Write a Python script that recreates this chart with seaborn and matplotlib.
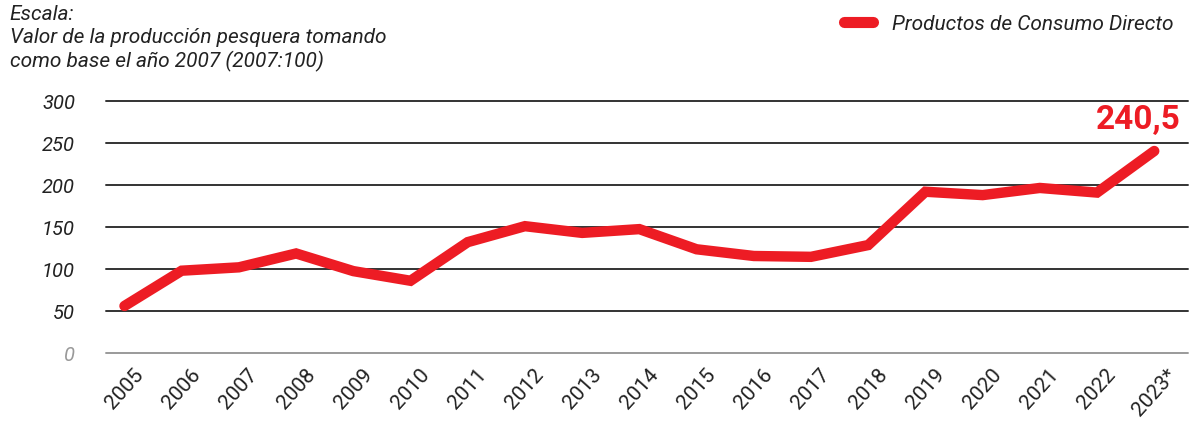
import matplotlib
matplotlib.use('Agg')
import matplotlib.pyplot as plt
import pandas as pd
import seaborn as sns

years = ['2005', '2006', '2007', '2008', '2009', '2010', '2011', '2012', '2013', '2014',
         '2015', '2016', '2017', '2018', '2019', '2020', '2021', '2022', '2023*']
values = [56, 98, 102, 118.5, 97.5, 86, 132, 151, 143, 147.5,
          123.5, 115.5, 114.5, 128.5, 192, 188, 196.5, 191, 240.5]
series_name = 'Productos de Consumo Directo'
last_label = '240,5'
yticks = [0, 50, 100, 150, 200, 250, 300]

red = '#ED1C24'

sns.set_style('white')
plt.rcParams['font.family'] = ['Roboto', 'DejaVu Sans']

df = pd.DataFrame({'year': years, 'value': values, 'serie': series_name})
df['pos'] = range(len(df))

fig = plt.figure(figsize=(12, 4.46), dpi=100)
ax = fig.add_axes([0.088, 0.2085, 0.902, 0.565])

sns.lineplot(data=df, x='pos', y='value', hue='serie', palette=[red], lw=7.5,
             solid_capstyle='round', solid_joinstyle='miter', ax=ax, zorder=3, legend=True)

ax.set_ylim(0, 300)
ax.set_xlim(-0.33, len(years) - 1 + 0.59)
ax.set_yticks(yticks)
ax.set_xticks(range(len(years)))
ax.set_xticklabels(years, rotation=48, ha='center')
ax.set_xlabel('')
ax.set_ylabel('')
for s in ax.spines.values():
    s.set_visible(False)
for y in yticks:
    ax.axhline(y, color='#9a9a9a' if y == 0 else '#333333', lw=1.4, zorder=1, clip_on=False)

ax.tick_params(axis='y', length=0, pad=22, labelsize=14.5)
ax.tick_params(axis='x', length=0, pad=9, labelsize=15)
for lab in ax.get_yticklabels():
    lab.set_style('italic')
    if lab.get_text() == '0':
        lab.set_color('#999999')
    else:
        lab.set_color('#222222')
for lab in ax.get_xticklabels():
    lab.set_color('#222222')

ax.annotate(last_label, (len(years) - 1, values[-1]), xytext=(19, 11), textcoords='offset points',
            ha='right', va='bottom', color=red, fontsize=24, fontweight='bold')

leg = ax.legend(loc='upper right', bbox_to_anchor=(0.988, 0.995), bbox_transform=fig.transFigure,
                frameon=False, handlelength=1.4, handletextpad=0.9, fontsize=15, borderaxespad=0.2)
for t in leg.get_texts():
    t.set_style('italic')
    t.set_color('#222222')
for h in leg.get_lines():
    h.set_linewidth(8)
    h.set_solid_capstyle('round')

fig.text(0.008, 0.988, 'Escala:\nValor de la producción pesquera tomando\ncomo base el año 2007 (2007:100)',
         ha='left', va='top', fontsize=15, style='italic', color='#222222', linespacing=1.25)

fig.savefig('out.png', dpi=100)
